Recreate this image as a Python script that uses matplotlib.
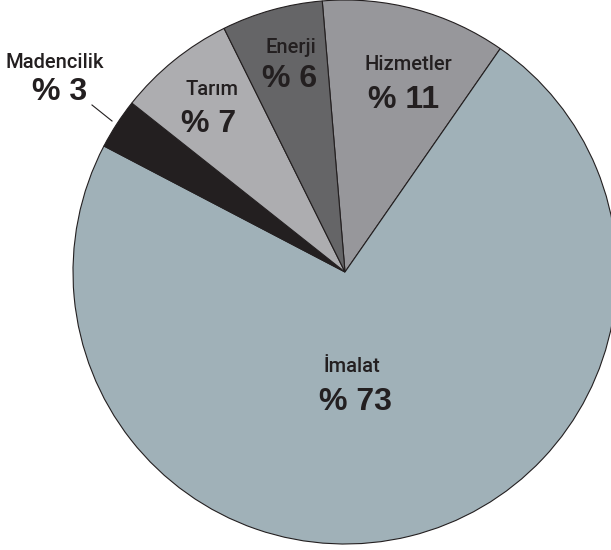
import matplotlib

matplotlib.use("Agg")
from matplotlib import pyplot as plt

# Data
sectors = ["Hizmetler", "İmalat", "Madencilik", "Tarım", "Enerji"]
shares = [11, 73, 3, 7, 6]
colors = ["#97979b", "#a0b1b8", "#231f20", "#adadb0", "#656567"]

ink = "#231f20"
plt.rcParams['font.family'] = ['Liberation Sans', 'DejaVu Sans']

fig = plt.figure(figsize=(6.11, 5.5), dpi=100)
ax = fig.add_axes([0, 0, 1, 1])

# pie drawn in pixel-like coords (y axis is inverted, so angles run clockwise)
ax.pie(shares, colors=colors, center=(345, 272), radius=272,
       startangle=-94.8, counterclock=True,
       wedgeprops=dict(edgecolor=ink, linewidth=0.8), frame=True)
ax.set_xlim(0, 611)
ax.set_ylim(550, 0)
ax.axis("off")

# label baselines (pixels): (name x, name y, pct x, pct y)
label_pos = {
    "Hizmetler": (408, 70, 404, 108),
    "İmalat": (352, 372, 355, 410),
    "Madencilik": (55, 68, 60, 100),
    "Tarım": (212, 95, 209, 132),
    "Enerji": (291, 53, 290, 87),
}
for name, val in zip(sectors, shares):
    lx, ly, px, py = label_pos[name]
    ax.text(lx, ly, name, ha="center", va="baseline", fontsize=14.5,
            color=ink, family=['Roboto', 'Liberation Sans'], fontweight="medium")
    ax.text(px, py, "% " + str(val), ha="center", va="baseline",
            fontsize=23, fontweight="bold", color=ink)

# leader line for the small slice
ax.plot([92, 112], [105, 121], color=ink, linewidth=0.8)

fig.savefig("out.png", dpi=100)
